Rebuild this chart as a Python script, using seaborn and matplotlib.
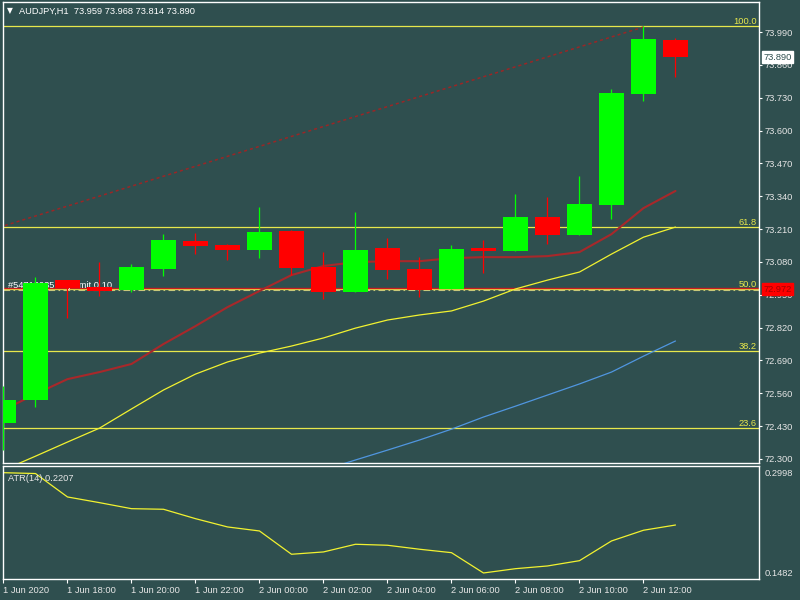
import matplotlib
matplotlib.use("Agg")
import matplotlib.pyplot as plt
import pandas as pd
import seaborn as sns

BG = "#2f4f4f"

# hourly bars, 1 Jun 16:00 .. 2 Jun 13:00
bars = list(range(22))
opens = [72.442, 72.533, 73.008, 72.982, 72.969, 73.052, 73.163, 73.147, 73.127, 73.203, 73.058,
         72.962, 73.134, 73.052, 72.973, 73.134, 73.124, 73.258, 73.186, 73.305, 73.745, 73.959]
highs = [72.589, 73.020, 73.010, 73.078, 73.070, 73.190, 73.193, 73.150, 73.298, 73.205, 73.120,
         73.279, 73.176, 73.100, 73.147, 73.167, 73.347, 73.336, 73.421, 73.764, 74.014, 73.968]
lows = [72.335, 72.507, 72.857, 72.945, 72.962, 73.025, 73.110, 73.087, 73.097, 73.028, 72.932,
        72.962, 73.011, 72.942, 72.973, 73.035, 73.124, 73.150, 73.186, 73.250, 73.718, 73.814]
closes = [72.533, 72.998, 72.975, 72.965, 73.060, 73.167, 73.144, 73.127, 73.197, 73.057, 72.962,
          73.127, 73.048, 72.969, 73.131, 73.123, 73.258, 73.186, 73.309, 73.749, 73.962, 73.890]

ma_red = [72.494, 72.557, 72.616, 72.644, 72.676, 72.755, 72.826, 72.901, 72.965, 73.028, 73.064,
          73.079, 73.083, 73.083, 73.095, 73.099, 73.099, 73.103, 73.119, 73.190, 73.293, 73.361]
ma_yellow = [72.256, 72.311, 72.367, 72.422, 72.498, 72.573, 72.636, 72.684, 72.719, 72.747, 72.779,
             72.818, 72.850, 72.870, 72.886, 72.925, 72.973, 73.008, 73.040, 73.111, 73.178, 73.218]
ma_blue_bars = list(range(10, 22))
ma_blue = [72.256, 72.296, 72.335, 72.375, 72.418, 72.466, 72.509, 72.553, 72.597, 72.644, 72.707, 72.767]

atr = [0.2998, 0.2985, 0.2631, 0.2545, 0.2454, 0.2445, 0.2303, 0.2178, 0.2117, 0.1765, 0.1800,
       0.1916, 0.1901, 0.1841, 0.1789, 0.1482, 0.1547, 0.1588, 0.1668, 0.1966, 0.2128, 0.2207]

trend_bars = [-1, 20]
trend_prices = [73.183, 74.010]

fib_low, fib_high = 71.930, 74.014
fib_levels = [23.6, 38.2, 50.0, 61.8, 100.0]
order_price = 72.975

price_ticks = [73.990, 73.860, 73.730, 73.600, 73.470, 73.340, 73.210,
               73.080, 72.950, 72.820, 72.690, 72.560, 72.430, 72.300]
atr_ticks = [0.2998, 0.1482]
time_tick_bars = [0, 2, 4, 6, 8, 10, 12, 14, 16, 18, 20]
time_tick_labels = ["1 Jun 2020", "1 Jun 18:00", "1 Jun 20:00", "1 Jun 22:00", "2 Jun 00:00",
                    "2 Jun 02:00", "2 Jun 04:00", "2 Jun 06:00", "2 Jun 08:00", "2 Jun 10:00",
                    "2 Jun 12:00"]


def style_axes(ax):
    ax.set_facecolor(BG)
    for s in ax.spines.values():
        s.set_color("white")
        s.set_linewidth(1.0)
    ax.grid(False)


def draw_candles(ax, df):
    up = df["close"] >= df["open"]
    colors = ["#00ff00" if u else "#ff0000" for u in up]
    ax.vlines(df["bar"], df["low"], df["high"], colors=colors, linewidth=0.9, zorder=3)
    ax.bar(df["bar"], df["close"] - df["open"], bottom=df["open"], width=0.78,
           color=colors, linewidth=0, zorder=4)


def main():
    sns.set_theme(style="dark", rc={"axes.facecolor": BG, "figure.facecolor": BG})
    plt.rcParams["font.family"] = ["Liberation Sans", "DejaVu Sans"]
    fs = 6.7

    df = pd.DataFrame({"bar": bars, "open": opens, "high": highs, "low": lows, "close": closes,
                       "ma_red": ma_red, "ma_yellow": ma_yellow, "atr": atr})
    blue = pd.DataFrame({"bar": ma_blue_bars, "ma": ma_blue})

    fig = plt.figure(figsize=(8, 6), dpi=100)
    ax = fig.add_axes([3 / 800, 1 - 463 / 600, 756 / 800, 461 / 600])
    ax2 = fig.add_axes([3 / 800, 1 - 579 / 600, 756 / 800, 113 / 600])
    style_axes(ax)
    style_axes(ax2)

    xlim = (-0.0156, 23.61)

    # fibonacci levels
    rng = fib_high - fib_low
    for lvl in fib_levels:
        p = fib_low + rng * lvl / 100
        ax.axhline(p, color="#e8e84c", linewidth=0.9, zorder=2)
        ax.annotate(f"{lvl:.1f}", xy=(0.997, p), xycoords=("axes fraction", "data"),
                    ha="right", va="bottom", color="#e8e84c", fontsize=fs)

    # pending order line, its label partly hidden behind the candles
    ax.axhline(order_price, color="#c81e1e", linewidth=1.0, zorder=2)
    ax.axhline(order_price - 0.006, color="#c8c87a", linewidth=0.8, linestyle=(0, (6, 3, 1.5, 3)),
               zorder=2)
    ax.text(0.15, order_price + 0.013, "#54712035 buy limit 0.10", color="white",
            fontsize=fs, va="center", ha="left", zorder=2.5)

    # trend line
    ax.plot(trend_bars, trend_prices, color="#9a2626", linewidth=1.1, linestyle=(0, (2, 2)), zorder=2)

    # moving averages
    sns.lineplot(data=df, x="bar", y="ma_yellow", ax=ax, color="#f2f230", linewidth=0.9, zorder=2.6)
    sns.lineplot(data=blue, x="bar", y="ma", ax=ax, color="#5096e0", linewidth=0.9, zorder=2.6)
    sns.lineplot(data=df, x="bar", y="ma_red", ax=ax, color="#a8282a", linewidth=1.5, zorder=2.7)

    draw_candles(ax, df)

    ax.set_xlim(*xlim)
    ax.set_ylim(72.284, 74.109)
    ax.set_xticks([])
    ax.yaxis.tick_right()
    ax.set_yticks(price_ticks)
    ax.set_yticklabels([f"{t:.3f}" for t in price_ticks])
    ax.tick_params(axis="y", right=True, left=False, labelleft=False, labelright=True,
                   colors="white", length=2.5, width=0.8, pad=1.5, labelsize=fs,
                   labelcolor="#e6e6e6")
    ax.set_xlabel("")
    ax.set_ylabel("")

    # price boxes on the right scale
    ax.annotate("73.890", xy=(1.006, closes[-1]), xycoords=("axes fraction", "data"),
                ha="left", va="center", fontsize=fs, color="#2f4f4f", zorder=10,
                bbox=dict(boxstyle="square,pad=0.15", fc="white", ec="white"), annotation_clip=False)
    ax.annotate("72.972", xy=(1.006, 72.972), xycoords=("axes fraction", "data"),
                ha="left", va="center", fontsize=fs, color="#a00000", zorder=10,
                bbox=dict(boxstyle="square,pad=0.15", fc="#ff0000", ec="#ff0000"), annotation_clip=False)

    # ATR panel
    sns.lineplot(data=df, x="bar", y="atr", ax=ax2, color="#f2f230", linewidth=0.9)
    ax2.set_xlim(*xlim)
    ax2.set_ylim(0.1391, 0.3099)
    ax2.yaxis.tick_right()
    ax2.set_yticks(atr_ticks)
    ax2.set_yticklabels([f"{t:.4f}" for t in atr_ticks])
    ax2.tick_params(axis="y", right=True, left=False, labelleft=False, labelright=True,
                    length=0, pad=4, labelsize=fs, labelcolor="#e6e6e6")
    ax2.set_xticks(time_tick_bars)
    ax2.set_xticklabels(time_tick_labels, ha="left")
    ax2.tick_params(axis="x", bottom=True, colors="white", length=3, width=0.8, pad=2,
                    labelsize=fs, labelcolor="#e6e6e6")
    ax2.set_xlabel("")
    ax2.set_ylabel("")
    ax2.text(0.007, 0.93, "ATR(14) 0.2207", transform=ax2.transAxes, color="#e6e6e6",
             fontsize=fs, ha="left", va="top")

    fig.text(7 / 800, 1 - 11 / 600, "\u25bc", color="white", fontsize=5.5, ha="left", va="center",
             family="DejaVu Sans")
    fig.text(19 / 800, 1 - 11 / 600, "AUDJPY,H1  73.959 73.968 73.814 73.890", color="white",
             fontsize=fs, ha="left", va="center")

    fig.savefig("out.png", dpi=100, facecolor=BG)
    plt.close(fig)


if __name__ == "__main__":
    main()
